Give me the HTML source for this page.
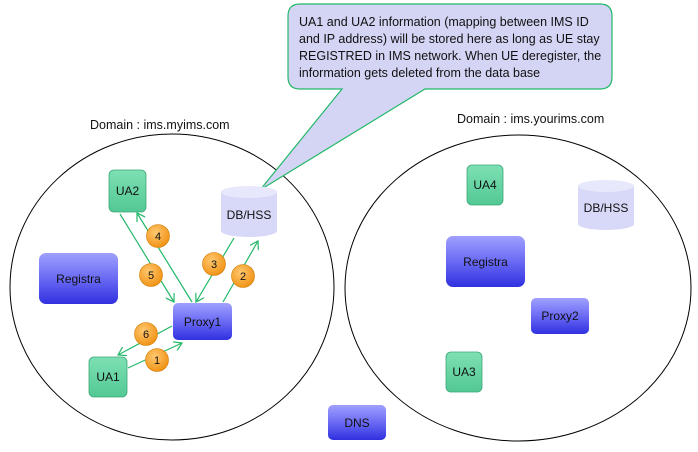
<!DOCTYPE html>
<html><head><meta charset="utf-8"><style>
html,body{margin:0;padding:0;background:#fff;}
svg{display:block;font-family:"Liberation Sans",sans-serif;}
</style></head><body>
<svg width="698" height="452" viewBox="0 0 698 452" xmlns="http://www.w3.org/2000/svg">
<defs>
<linearGradient id="blue" x1="0" y1="0" x2="0" y2="1"><stop offset="0" stop-color="#a0a0ff"/><stop offset="0.5" stop-color="#6a6af4"/><stop offset="1" stop-color="#3030e0"/></linearGradient>
<linearGradient id="green" x1="0" y1="0" x2="0" y2="1"><stop offset="0" stop-color="#7ee0b4"/><stop offset="1" stop-color="#52c894"/></linearGradient>
<radialGradient id="org" cx="0.4" cy="0.35" r="0.7"><stop offset="0" stop-color="#ffc870"/><stop offset="1" stop-color="#f09010"/></radialGradient>
<marker id="ah" markerWidth="10" markerHeight="10" refX="8" refY="5" orient="auto" markerUnits="userSpaceOnUse"><path d="M0,0 L8,5 L0,10" fill="none" stroke="#22b868" stroke-width="1.2"/></marker>
</defs>
<ellipse cx="172" cy="287" rx="162" ry="153" fill="none" stroke="#000" stroke-width="1"/>
<ellipse cx="518" cy="288" rx="173" ry="153" fill="none" stroke="#000" stroke-width="1"/>
<path d="M300,4 H600 Q612,4 612,16 V77 Q612,89 600,89 H425 L260,190 L342,89 H300 Q288,89 288,77 V16 Q288,4 300,4 Z" fill="#d4d4f4" stroke="#22b868" stroke-width="1.2"/>
<g font-size="12.5" fill="#111">
<text x="299" y="26">UA1 and UA2 information (mapping between IMS ID</text>
<text x="299" y="43">and IP address) will be stored here as long as UE stay</text>
<text x="299" y="60">REGISTRED in IMS network. When UE deregister, the</text>
<text x="299" y="77">information gets deleted from the data base</text>
<text x="90" y="129">Domain : ims.myims.com</text>
<text x="457" y="123">Domain : ims.yourims.com</text>
</g>
<g stroke="#22b868" stroke-width="1.2" fill="none" marker-end="url(#ah)">
<line x1="128" y1="368" x2="182" y2="343"/>
<line x1="172" y1="326" x2="118" y2="355"/>
<line x1="120" y1="214" x2="174" y2="302"/>
<line x1="192" y1="302" x2="137" y2="213"/>
<line x1="234" y1="238" x2="196" y2="302"/>
<line x1="223" y1="302" x2="258" y2="241"/>
</g>
<g font-size="12" fill="#111" text-anchor="middle">
<rect x="109" y="170" width="37" height="42" rx="5" fill="url(#green)" stroke="#3aa878" stroke-width="0.8"/><text x="127.5" y="195">UA2</text>
<rect x="89" y="357" width="38" height="40" rx="5" fill="url(#green)" stroke="#3aa878" stroke-width="0.8"/><text x="108" y="381">UA1</text>
<rect x="467" y="165" width="36" height="40" rx="5" fill="url(#green)" stroke="#3aa878" stroke-width="0.8"/><text x="485" y="189">UA4</text>
<rect x="446" y="352" width="36" height="40" rx="5" fill="url(#green)" stroke="#3aa878" stroke-width="0.8"/><text x="464" y="376">UA3</text>
<rect x="39" y="253" width="79" height="51" rx="7" fill="url(#blue)"/><text x="78.5" y="283">Registra</text>
<rect x="446" y="236" width="79" height="51" rx="7" fill="url(#blue)"/><text x="485.5" y="266">Registra</text>
<rect x="173" y="303" width="59" height="37" rx="5" fill="url(#blue)"/><text x="202.5" y="326">Proxy1</text>
<rect x="531" y="298" width="58" height="36" rx="5" fill="url(#blue)"/><text x="560" y="320">Proxy2</text>
<rect x="328" y="405" width="58" height="35" rx="5" fill="url(#blue)"/><text x="357" y="427">DNS</text>
<path d="M221,192 V231 A28,6 0 0 0 277,231 V192 Z" fill="#d8d8f8"/><ellipse cx="249" cy="192" rx="28" ry="6" fill="#e8e8fc"/><text x="249" y="219">DB/HSS</text>
<path d="M578,186 V224 A28,6 0 0 0 634,224 V186 Z" fill="#d8d8f8"/><ellipse cx="606" cy="186" rx="28" ry="6" fill="#e8e8fc"/><text x="606" y="212">DB/HSS</text>
<g font-size="11">
<circle cx="158" cy="236" r="11.5" fill="url(#org)" stroke="#d07a00" stroke-width="0.6"/><text x="158" y="240">4</text>
<circle cx="151" cy="275" r="11.5" fill="url(#org)" stroke="#d07a00" stroke-width="0.6"/><text x="151" y="279">5</text>
<circle cx="214" cy="264" r="11.5" fill="url(#org)" stroke="#d07a00" stroke-width="0.6"/><text x="214" y="268">3</text>
<circle cx="243" cy="276" r="11.5" fill="url(#org)" stroke="#d07a00" stroke-width="0.6"/><text x="243" y="280">2</text>
<circle cx="146" cy="334" r="11.5" fill="url(#org)" stroke="#d07a00" stroke-width="0.6"/><text x="146" y="338">6</text>
<circle cx="157" cy="360" r="11.5" fill="url(#org)" stroke="#d07a00" stroke-width="0.6"/><text x="157" y="364">1</text>
</g>
</g>
</svg>
</body></html>
